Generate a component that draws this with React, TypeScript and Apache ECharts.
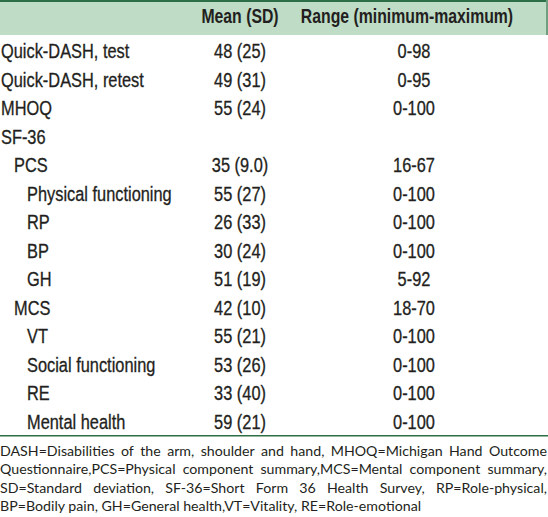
import React, { useEffect, useRef } from "react";
import * as echarts from "echarts";

const headerMean = "Mean (SD)";
const headerRange = "Range (minimum-maximum)";

const rowLabels = [
  "Quick-DASH, test",
  "Quick-DASH, retest",
  "MHOQ",
  "SF-36",
  "PCS",
  "Physical functioning",
  "RP",
  "BP",
  "GH",
  "MCS",
  "VT",
  "Social functioning",
  "RE",
  "Mental health",
];
const rowIndent = [0, 0, 0, 0, 1, 2, 2, 2, 2, 1, 2, 2, 2, 2];
const meanValues = [
  "48 (25)", "49 (31)", "55 (24)", "", "35 (9.0)", "55 (27)", "26 (33)",
  "30 (24)", "51 (19)", "42 (10)", "55 (21)", "53 (26)", "33 (40)", "59 (21)",
];
const rangeValues = [
  "0-98", "0-95", "0-100", "", "16-67", "0-100", "0-100",
  "0-100", "5-92", "18-70", "0-100", "0-100", "0-100", "0-100",
];
const footnoteLines = [
  "DASH=Disabilities of the arm, shoulder and hand, MHOQ=Michigan Hand Outcome",
  "Questionnaire,PCS=Physical component summary,MCS=Mental component summary,",
  "SD=Standard deviation, SF-36=Short Form 36 Health Survey, RP=Role-physical,",
  "BP=Bodily pain, GH=General health,VT=Vitality, RE=Role-emotional",
];
const footnoteJustified = [true, true, true, false];

const W = 548;
const H = 517;
const TEXT = "#231f20";
const TABLE_FONT = '"Liberation Sans", Arial, sans-serif';
const TABLE_SIZE = 19.5;
const NARROW = 0.84;
const NARROW_BOLD = 0.81;
const NOTE_FONT = 'Lato, "Open Sans", sans-serif';
const NOTE_SIZE = 14.2;

function tableText(text: string, x: number, y: number, align: string, bold = false) {
  return {
    type: "text",
    x,
    y,
    scaleX: bold ? NARROW_BOLD : NARROW,
    style: {
      text,
      x: 0,
      y: 0,
      fill: TEXT,
      stroke: bold ? undefined : TEXT,
      lineWidth: bold ? 0 : 0.3,
      fontFamily: TABLE_FONT,
      fontSize: TABLE_SIZE,
      fontWeight: bold ? "bold" : "normal",
      align,
      verticalAlign: "middle",
    },
  };
}

export default function App() {
  const ref = useRef<HTMLDivElement>(null);
  useEffect(() => {
    document.body.style.margin = "0";
    if (!ref.current) return;
    const chart = echarts.init(ref.current, null, { renderer: "svg" });

    const els: any[] = [];
    // header band
    els.push({ type: "rect", shape: { x: 0, y: 0, width: W, height: 35 }, style: { fill: "#bedcc6" } });
    els.push({ type: "rect", shape: { x: 0, y: 0, width: W, height: 2 }, style: { fill: "#2c6e45" } });
    els.push({ type: "rect", shape: { x: W - 2, y: 0, width: 2, height: 35 }, style: { fill: "#6f9f7e" } });
    els.push(tableText(headerMean, 240, 16, "center", true));
    els.push(tableText(headerRange, 407, 16, "center", true));

    const indentX = [1, 14, 27];
    rowLabels.forEach((lab, i) => {
      const y = 52 + i * 28.5;
      els.push(tableText(lab, indentX[rowIndent[i]], y, "left"));
      if (meanValues[i]) els.push(tableText(meanValues[i], 240, y, "center"));
      if (rangeValues[i]) els.push(tableText(rangeValues[i], 414, y, "center"));
    });

    els.push({ type: "rect", shape: { x: 0, y: 435, width: W, height: 1.5 }, style: { fill: "#2c6e45" } });

    // footnote with justification
    const canvas = document.createElement("canvas");
    const ctx = canvas.getContext("2d")!;
    ctx.font = `${NOTE_SIZE}px ${NOTE_FONT}`;
    const noteY = [450, 468.5, 487, 505.5];
    footnoteLines.forEach((line, li) => {
      const y = noteY[li];
      if (!footnoteJustified[li]) {
        els.push({
          type: "text",
          style: { text: line, x: 0, y, fill: TEXT, fontFamily: NOTE_FONT, fontSize: NOTE_SIZE, align: "left", verticalAlign: "middle" },
        });
        return;
      }
      const words = line.split(" ");
      const widths = words.map((w) => ctx.measureText(w).width);
      const total = widths.reduce((a, b) => a + b, 0);
      const gap = (W - 1 - total) / (words.length - 1);
      let x = 0;
      words.forEach((w, wi) => {
        els.push({
          type: "text",
          style: { text: w, x, y, fill: TEXT, fontFamily: NOTE_FONT, fontSize: NOTE_SIZE, align: "left", verticalAlign: "middle" },
        });
        x += widths[wi] + gap;
      });
    });

    chart.setOption({
      animation: false,
      backgroundColor: "#ffffff",
      graphic: { elements: els },
    });
    return () => chart.dispose();
  }, []);
  return <div ref={ref} style={{ width: W, height: H }} />;
}
